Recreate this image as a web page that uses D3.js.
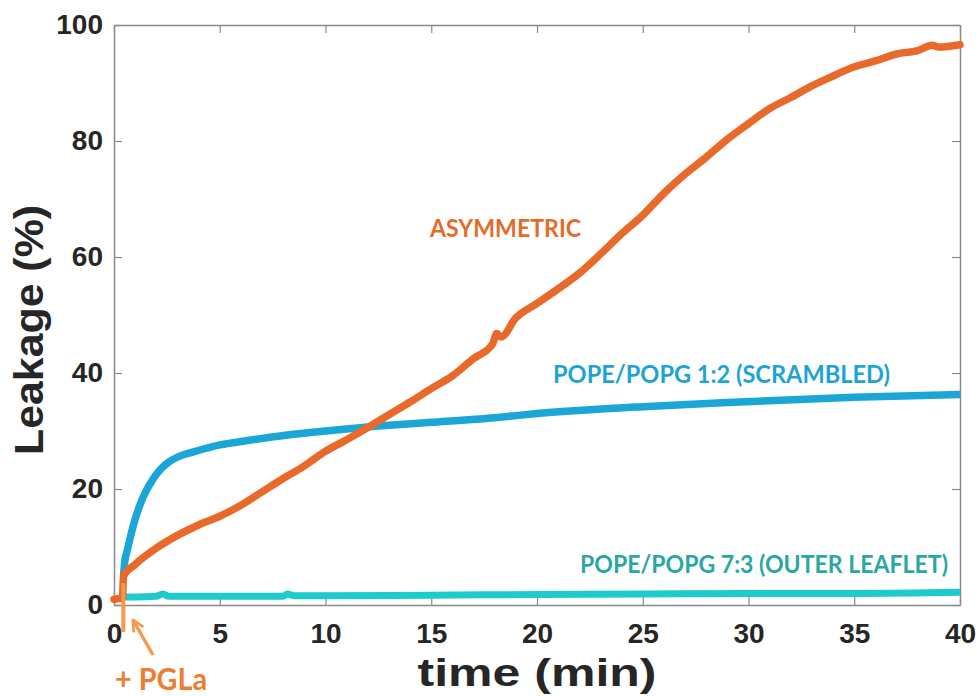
<!DOCTYPE html>
<html>
<head>
<meta charset="utf-8">
<script src="https://cdn.jsdelivr.net/npm/d3@7"></script>
<style>
  body { margin: 0; background: #fff; }
  .tick text { font-family: "Liberation Sans", Arial, sans-serif; font-weight: bold; font-size: 28px; fill: #262626; }
</style>
</head>
<body>
<div id="chart"></div>
<script>
// Leakage data (time in min, leakage in %)
var asymTime = [0, 0.2, 0.4, 0.45, 1, 2, 3, 4, 5, 6, 7, 8, 9, 10, 11, 12, 13, 14, 15, 16, 17, 17.9, 18.1, 18.3, 19, 20, 21, 22, 23, 24, 25, 26, 27, 28, 29, 30, 31, 32, 33, 34, 35, 36, 37, 38, 38.7, 39, 40];
var asymLeak = [1.0, 1.1, 1.2, 5.0, 7.0, 9.8, 12.0, 13.8, 15.3, 17.2, 19.5, 21.8, 24.0, 26.5, 28.5, 30.6, 32.8, 35.0, 37.3, 39.5, 42.5, 45.0, 46.8, 46.2, 49.5, 52.0, 54.5, 57.2, 60.5, 64.0, 67.2, 71.0, 74.3, 77.2, 80.3, 83.0, 85.6, 87.5, 89.5, 91.2, 92.8, 93.8, 95.0, 95.6, 96.5, 96.2, 96.6];

var scrTime = [0.45, 0.52, 0.6, 0.76, 1.0, 1.39, 1.86, 2.2, 2.65, 3.2, 3.75, 5, 6.4, 8.2, 10, 13, 15, 18, 20, 25, 29.6, 35, 40];
var scrLeak = [5.0, 7.8, 9.0, 11.5, 14.8, 18.7, 21.8, 23.4, 24.8, 25.8, 26.4, 27.6, 28.4, 29.3, 30.0, 31.0, 31.5, 32.3, 33.0, 34.2, 35.0, 35.8, 36.3];

var outTime = [0.4, 1, 2, 2.3, 2.6, 5, 8, 8.2, 8.5, 10, 15, 20, 25, 30, 35, 40];
var outLeak = [1.4, 1.4, 1.5, 1.9, 1.5, 1.5, 1.5, 1.9, 1.6, 1.6, 1.7, 1.8, 1.9, 2.0, 2.0, 2.2];

var xTicks = [0, 5, 10, 15, 20, 25, 30, 35, 40];
var yTicks = [0, 20, 40, 60, 80, 100];
var injectTime = 0.44;

var svgWidth = 978;
var svgHeight = 696;
var margin = { top: 25, right: 18, bottom: 92, left: 114 };
var width = 960 - margin.left;
var height = 605 - margin.top;

var svg = d3.select("#chart")
  .append("svg")
  .attr("width", svgWidth)
  .attr("height", svgHeight);

var chartGroup = svg.append("g")
  .attr("transform", `translate(${margin.left}, ${margin.top})`);

var xScale = d3.scaleLinear().domain([0, 40]).range([0, width]);
var yScale = d3.scaleLinear().domain([0, 100]).range([height, 0]);

// axes: MATLAB style box with inward ticks
var axisColor = "#8a8a8a";

var bottomAxis = d3.axisBottom(xScale).tickValues(xTicks).tickSize(-8).tickSizeOuter(0).tickPadding(18);
var leftAxis = d3.axisLeft(yScale).tickValues(yTicks).tickSize(-8).tickSizeOuter(0).tickPadding(11);
var topAxis = d3.axisTop(xScale).tickValues(xTicks).tickSize(-8).tickSizeOuter(0).tickFormat("");
var rightAxis = d3.axisRight(yScale).tickValues(yTicks).tickSize(-8).tickSizeOuter(0).tickFormat("");

var gx = chartGroup.append("g").attr("transform", `translate(0, ${height})`).call(bottomAxis);
var gy = chartGroup.append("g").call(leftAxis);
var gt = chartGroup.append("g").call(topAxis);
var gr = chartGroup.append("g").attr("transform", `translate(${width}, 0)`).call(rightAxis);

[gx, gy, gt, gr].forEach(function(g) {
  g.select(".domain").attr("stroke", axisColor).attr("stroke-width", 1.5);
  g.selectAll(".tick line").attr("stroke", axisColor).attr("stroke-width", 1.2);
});

// lines
function makeLine(times, vals) {
  return d3.line()
    .curve(d3.curveMonotoneX)
    .x((d, i) => xScale(times[i]))
    .y(d => yScale(d))(vals);
}

chartGroup.append("path")
  .attr("d", makeLine(outTime, outLeak))
  .attr("fill", "none")
  .attr("stroke", "#1ecbcc")
  .attr("stroke-width", 7)
  .attr("stroke-linejoin", "round");

chartGroup.append("path")
  .attr("d", makeLine(scrTime, scrLeak))
  .attr("fill", "none")
  .attr("stroke", "#1aa6d6")
  .attr("stroke-width", 7.5)
  .attr("stroke-linejoin", "round");

chartGroup.append("path")
  .attr("d", makeLine(asymTime, asymLeak))
  .attr("fill", "none")
  .attr("stroke", "#e8692a")
  .attr("stroke-width", 7.5)
  .attr("stroke-linejoin", "round")
  .attr("stroke-linecap", "round");

// injection marker
var markColor = "#f39a4e";
chartGroup.append("line")
  .attr("x1", xScale(injectTime)).attr("x2", xScale(injectTime))
  .attr("y1", yScale(3.8)).attr("y2", height + 27)
  .attr("stroke", markColor)
  .attr("stroke-width", 4);

svg.append("defs").append("marker")
  .attr("id", "arrow")
  .attr("viewBox", "0 0 10 10")
  .attr("refX", 9).attr("refY", 5)
  .attr("markerWidth", 4).attr("markerHeight", 4)
  .attr("orient", "auto")
  .append("path")
  .attr("d", "M1,1 L9,5 L1,9")
  .attr("fill", "none")
  .attr("stroke", markColor)
  .attr("stroke-width", 2);

chartGroup.append("line")
  .attr("x1", 153 - margin.left).attr("y1", 655 - margin.top)
  .attr("x2", 133 - margin.left).attr("y2", 620 - margin.top)
  .attr("stroke", markColor)
  .attr("stroke-width", 3.5)
  .attr("marker-end", "url(#arrow)");

// annotation labels
var labelFont = "Lato, 'Open Sans', sans-serif";

svg.append("text")
  .attr("x", 115).attr("y", 690)
  .attr("font-family", labelFont).attr("font-weight", "bold")
  .attr("font-size", "30px")
  .attr("fill", "#ed7d31")
  .attr("textLength", 92).attr("lengthAdjust", "spacingAndGlyphs")
  .text("+ PGLa");

svg.append("text")
  .attr("x", 430).attr("y", 237)
  .attr("font-family", labelFont).attr("font-weight", "bold")
  .attr("font-size", "25px")
  .attr("fill", "#e46c2a")
  .attr("textLength", 151).attr("lengthAdjust", "spacingAndGlyphs")
  .text("ASYMMETRIC");

svg.append("text")
  .attr("x", 553).attr("y", 383)
  .attr("font-family", labelFont).attr("font-weight", "bold")
  .attr("font-size", "25px")
  .attr("fill", "#1ea3d5")
  .attr("textLength", 337).attr("lengthAdjust", "spacingAndGlyphs")
  .text("POPE/POPG 1:2 (SCRAMBLED)");

svg.append("text")
  .attr("x", 580).attr("y", 573)
  .attr("font-family", labelFont).attr("font-weight", "bold")
  .attr("font-size", "25px")
  .attr("fill", "#2aa7a2")
  .attr("textLength", 368).attr("lengthAdjust", "spacingAndGlyphs")
  .text("POPE/POPG 7:3 (OUTER LEAFLET)");

// axis titles
svg.append("text")
  .attr("x", 537).attr("y", 686)
  .attr("text-anchor", "middle")
  .attr("font-family", "'Liberation Sans', Arial, sans-serif").attr("font-weight", "bold")
  .attr("font-size", "39px")
  .attr("fill", "#262626")
  .attr("textLength", 239).attr("lengthAdjust", "spacingAndGlyphs")
  .text("time (min)");

svg.append("text")
  .attr("transform", "translate(43, 330) rotate(-90)")
  .attr("text-anchor", "middle")
  .attr("font-family", "'Liberation Sans', Arial, sans-serif").attr("font-weight", "bold")
  .attr("font-size", "40px")
  .attr("fill", "#262626")
  .attr("textLength", 250).attr("lengthAdjust", "spacingAndGlyphs")
  .text("Leakage (%)");
</script>
</body>
</html>
